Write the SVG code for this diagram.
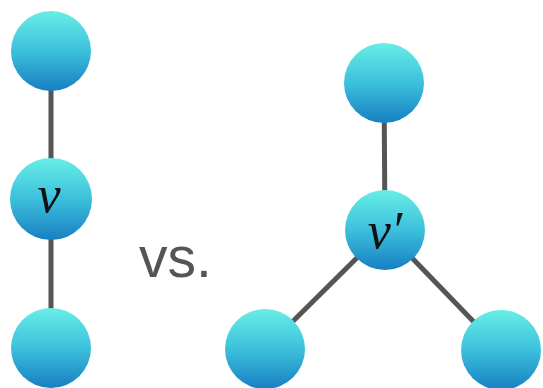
<svg xmlns="http://www.w3.org/2000/svg" width="543" height="388" viewBox="0 0 543 388">
<defs>
<linearGradient id="g" x1="0" y1="0" x2="0" y2="1">
<stop offset="0" stop-color="#68eee6"/>
<stop offset="0.5" stop-color="#3cc0dc"/>
<stop offset="1" stop-color="#177fc2"/>
</linearGradient>
</defs>
<style>
.edge{stroke:#555;stroke-width:5;fill:none}
.node{fill:url(#g)}
.lbl{font-family:"Liberation Serif","DejaVu Serif",serif;font-style:italic;font-size:52px;fill:#111;text-anchor:middle}
.vs{font-family:"Liberation Sans",Arial,sans-serif;font-size:57px;fill:#555}
</style>
<rect width="543" height="388" fill="#fff"/>
<g id="connectors">
<line class="edge" x1="51" y1="51" x2="51" y2="199"/>
<line class="edge" x1="51" y1="199" x2="51" y2="348"/>
<line class="edge" x1="384" y1="83" x2="385" y2="230"/>
<line class="edge" x1="385" y1="230" x2="265" y2="349"/>
<line class="edge" x1="385" y1="230" x2="501" y2="350"/>
</g>
<g id="n-top-left"><circle class="node" cx="51" cy="51" r="40"/></g>
<g id="n-v"><circle class="node" cx="51" cy="199" r="41"/><text class="lbl" x="49" y="212">v</text></g>
<g id="n-bottom-left"><circle class="node" cx="51" cy="348" r="40"/></g>
<g id="n-top-right"><circle class="node" cx="384" cy="83" r="40"/></g>
<g id="n-vprime"><circle class="node" cx="385" cy="230" r="40"/><text class="lbl" x="385" y="248">v′</text></g>
<g id="n-bl-right"><circle class="node" cx="265" cy="349" r="40"/></g>
<g id="n-br-right"><circle class="node" cx="501" cy="350" r="40"/></g>
<text class="vs" x="139" y="277">vs.</text>
</svg>
